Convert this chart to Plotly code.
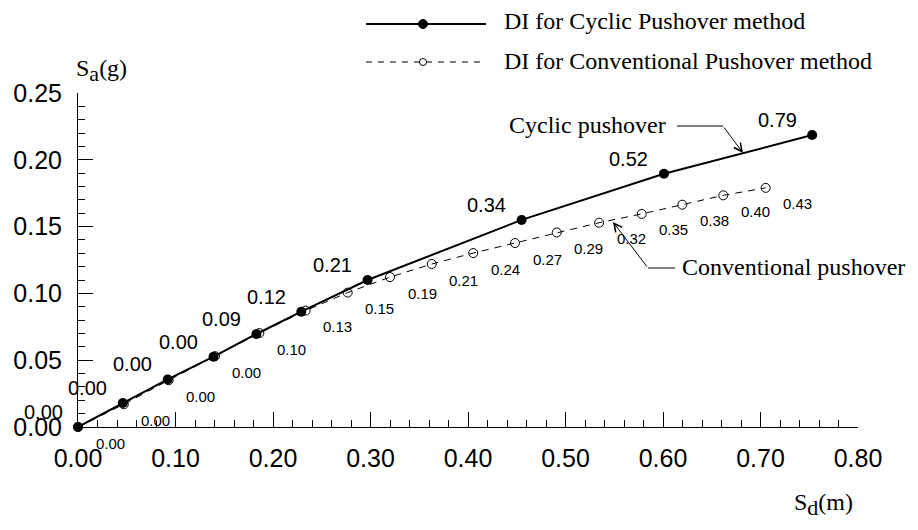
import plotly.graph_objects as go

# ---- data ----
cyc_x = [0.000, 0.046, 0.092, 0.139, 0.183, 0.229, 0.297, 0.455, 0.601, 0.753]
cyc_y = [0.000, 0.018, 0.0356, 0.0526, 0.0696, 0.0863, 0.110, 0.155, 0.1895, 0.2185]
cyc_di = ["0.00", "0.00", "0.00", "0.00", "0.09", "0.12", "0.21", "0.34", "0.52", "0.79"]

conv_x = [0.000, 0.047, 0.093, 0.1405, 0.186, 0.2335, 0.2766, 0.320, 0.3628, 0.4054,
          0.4482, 0.491, 0.5344, 0.5782, 0.6198, 0.6618, 0.7053]
conv_y = [0.000, 0.017, 0.035, 0.053, 0.0703, 0.0871, 0.1006, 0.1122, 0.1220, 0.1302,
          0.1377, 0.1456, 0.1529, 0.1595, 0.1664, 0.1734, 0.1790]
conv_di = ["0.00", "0.00", "0.00", "0.00", "0.10", "0.13", "0.15", "0.19", "0.21", "0.24",
           "0.27", "0.29", "0.32", "0.35", "0.38", "0.40", "0.43"]

x_ticks = [0.0, 0.1, 0.2, 0.3, 0.4, 0.5, 0.6, 0.7, 0.8]
y_ticks = [0.0, 0.05, 0.10, 0.15, 0.20, 0.25]

legend_names = ["DI for Cyclic Pushover method", "DI for Conventional Pushover method"]

# ---- layout geometry ----
W, H = 918, 530
ML, MR, MT, MB = 78, 60, 93, 103
PW, PH = W - ML - MR, H - MT - MB

def px(x):
    return (x - ML) / PW

def py(y):
    return (H - MB - y) / PH

SANS = "Liberation Sans, Arial, sans-serif"
SERIF = "Liberation Serif, Times New Roman, serif"

fig = go.Figure()

fig.add_trace(go.Scatter(
    x=conv_x, y=conv_y, mode="lines+markers", cliponaxis=False, showlegend=False,
    line=dict(color="black", width=1, dash="7px,6px"),
    marker=dict(symbol="circle-open", size=9, color="black", line=dict(width=1)),
))
fig.add_trace(go.Scatter(
    x=cyc_x, y=cyc_y, mode="lines+markers", cliponaxis=False, showlegend=False,
    line=dict(color="black", width=2),
    marker=dict(symbol="circle", size=10, color="black"),
))

annotations = []
for x, y, t in zip(cyc_x, cyc_y, cyc_di):
    annotations.append(dict(x=x, y=y, xref="x", yref="y", text=t, showarrow=False,
                            xshift=-35, yshift=15,
                            font=dict(family=SANS, size=20, color="black")))
for x, y, t in zip(conv_x, conv_y, conv_di):
    annotations.append(dict(x=x, y=y, xref="x", yref="y", text=t, showarrow=False,
                            xshift=32, yshift=-16,
                            font=dict(family=SANS, size=15, color="black")))

# axis titles
annotations.append(dict(x=px(74), y=py(70), xref="paper", yref="paper", xanchor="left",
                        yanchor="middle",
                        text="S<sub><span style='font-size:22px'>a</span></sub>(g)",
                        showarrow=False, font=dict(family=SERIF, size=24, color="black")))
annotations.append(dict(x=px(792), y=py(504), xref="paper", yref="paper", xanchor="left",
                        yanchor="middle",
                        text="S<sub><span style='font-size:22px'>d</span></sub>(m)",
                        showarrow=False, font=dict(family=SERIF, size=24, color="black")))

# legend text
annotations.append(dict(x=px(502), y=py(21), xref="paper", yref="paper", xanchor="left",
                        yanchor="middle", text=legend_names[0], showarrow=False,
                        font=dict(family=SERIF, size=24, color="black")))
annotations.append(dict(x=px(502), y=py(61), xref="paper", yref="paper", xanchor="left",
                        yanchor="middle", text=legend_names[1], showarrow=False,
                        font=dict(family=SERIF, size=24, color="black")))

# callouts
def dx(p):
    return (p - ML) / PW * 0.8

def dy(p):
    return (H - MB - p) / PH * 0.25

annotations.append(dict(x=px(668), y=py(125), xref="paper", yref="paper", xanchor="right",
                        yanchor="middle", text="Cyclic pushover", showarrow=False,
                        font=dict(family=SERIF, size=24, color="black")))
annotations.append(dict(x=dx(743), y=dy(153), xref="x", yref="y", ax=dx(723), ay=dy(126),
                        axref="x", ayref="y", text="", showarrow=True, arrowhead=5,
                        arrowsize=1.6, arrowwidth=1, arrowcolor="black"))
annotations.append(dict(x=px(680), y=py(267), xref="paper", yref="paper", xanchor="left",
                        yanchor="middle", text="Conventional pushover", showarrow=False,
                        font=dict(family=SERIF, size=24, color="black")))
annotations.append(dict(x=dx(613), y=dy(222), xref="x", yref="y", ax=dx(648), ay=dy(268),
                        axref="x", ayref="y", text="", showarrow=True, arrowhead=5,
                        arrowsize=1.6, arrowwidth=1, arrowcolor="black"))

shapes = [
    dict(type="line", xref="paper", yref="paper", x0=px(677), x1=px(723), y0=py(126), y1=py(126),
         line=dict(color="black", width=1)),
    dict(type="line", xref="paper", yref="paper", x0=px(648), x1=px(675), y0=py(268), y1=py(268),
         line=dict(color="black", width=1)),
    # legend samples
    dict(type="line", xref="paper", yref="paper", x0=px(366), x1=px(486), y0=py(24), y1=py(24),
         line=dict(color="black", width=2)),
    dict(type="circle", xref="paper", yref="paper", xsizemode="pixel", ysizemode="pixel",
         xanchor=px(423), yanchor=py(24), x0=-4.5, x1=4.5, y0=-4.5, y1=4.5,
         fillcolor="black", line=dict(color="black", width=1)),
    dict(type="line", xref="paper", yref="paper", x0=px(366), x1=px(486), y0=py(62), y1=py(62),
         line=dict(color="black", width=1, dash="6px,6px")),
    dict(type="circle", xref="paper", yref="paper", xsizemode="pixel", ysizemode="pixel",
         xanchor=px(423), yanchor=py(62), x0=-3.5, x1=3.5, y0=-3.5, y1=3.5,
         fillcolor="white", line=dict(color="black", width=1)),
]

axis_common = dict(showline=True, linecolor="black", linewidth=1, ticks="inside",
                   ticklen=15, tickwidth=1, tickcolor="black", showgrid=False,
                   zeroline=False, tickformat=".2f",
                   tickfont=dict(family=SANS, size=25, color="black"))

fig.update_layout(
    width=W, height=H, margin=dict(l=ML, r=MR, t=MT, b=MB),
    paper_bgcolor="white", plot_bgcolor="white", showlegend=False,
    xaxis=dict(range=[0, 0.8], tickvals=x_ticks, ticklabelstandoff=9,
               minor=dict(dtick=0.02, ticks="inside", ticklen=7, tickcolor="black", showgrid=False),
               **axis_common),
    yaxis=dict(range=[0, 0.25], tickvals=y_ticks, ticklabelstandoff=10,
               minor=dict(dtick=0.01, ticks="inside", ticklen=7, tickcolor="black", showgrid=False),
               **axis_common),
    annotations=annotations, shapes=shapes,
)

fig.write_html("out.html")
